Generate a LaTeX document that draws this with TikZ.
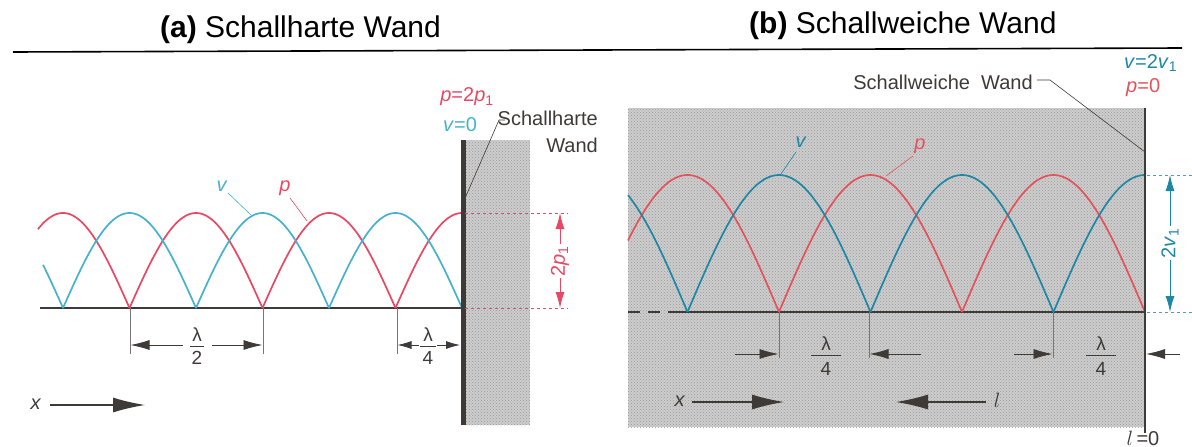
\documentclass[tikz,border=0pt]{standalone}
\usepackage{fontspec}
\setmainfont{Liberation Sans}
\usetikzlibrary{arrows.meta,patterns}
\definecolor{redA}{RGB}{232,72,100}
\definecolor{blueA}{RGB}{70,178,204}
\definecolor{redB}{RGB}{228,82,92}
\definecolor{blueB}{RGB}{30,135,165}
\definecolor{ink}{RGB}{62,58,56}
\definecolor{shade}{RGB}{205,205,205}
\tikzset{
  curve/.style={line width=1.7pt, line join=round},
  lbl/.style={font=\fontsize{20}{22}\selectfont, inner sep=0pt},
  ttl/.style={font=\fontsize{30}{34}\selectfont, inner sep=0pt, text=black},
  fracl/.style={font=\fontsize{19}{20}\selectfont, inner sep=0pt, text=ink},
  dimarrow/.style={ink, line width=0.8pt, -{Latex[length=19pt,width=10pt]}},
  smallarrow/.style={ink, line width=0.8pt, -{Latex[length=14pt,width=8pt]}},
  extline/.style={ink!70, line width=0.7pt},
  bigarrow/.style={ink, line width=1.2pt, -{Latex[length=32pt,width=15pt]}},
  leader/.style={line width=0.6pt},
  shadebox/.style={fill=shade},
  dotbox/.style={pattern=crosshatch dots, pattern color=gray!80},
  dimred/.style={redA, line width=0.9pt, {Latex[length=16pt,width=9pt]}-{Latex[length=16pt,width=9pt]}},
  dimblue/.style={blueB, line width=0.9pt, {Latex[length=16pt,width=9pt]}-{Latex[length=16pt,width=9pt]}},
}
\begin{document}
\begin{tikzpicture}[x=1pt,y=-1pt]
\useasboundingbox (0,0) rectangle (1192,447);

% ---------- titles ----------
\node[ttl, anchor=base west] (ta) at (160,37) {\textbf{(a)} Schallharte Wand};
\node[ttl, anchor=base west] (tb) at (749,33) {\textbf{(b)} Schallweiche Wand};
\coordinate (hl1) at (13,52);
\coordinate (hl2) at (1182,48);
\draw[black, line width=1.6pt] (hl1) -- (hl2);

% ================= panel (a) =================
\path[shadebox] (465,140) rectangle (530,425);
\path[dotbox] (465,140) rectangle (530,425);
\coordinate (a0) at (40,308);
\coordinate (aw) at (462,308);
\draw[ink, line width=1.2pt] (a0) -- (aw);

\foreach \a/\b in {38/129.5,129.5/262.5,262.5/395.5,395.5/462}
  \draw[curve,redA] plot[domain=\a:\b,samples=70] (\x,{308-95*abs(cos((\x-462)/133*180))});
\foreach \a/\b in {43/63,63/196,196/329,329/462}
  \draw[curve,blueA] plot[domain=\a:\b,samples=70] (\x,{308-95*abs(sin((\x-462)/133*180))});

% wall
\coordinate (wt) at (463,140);
\coordinate (wb) at (463,425);
\draw[ink, line width=5pt] (wt) -- (wb);

% dashed red lines and 2p1 dimension
\draw[redA, dashed, line width=0.8pt] (465,213) -- (568,213);
\draw[redA, dashed, line width=0.8pt] (465,308) -- (568,308);
\coordinate (dpt) at (560,213);
\coordinate (dpb) at (560,308);
\draw[dimred] (dpt) -- (dpb);
\node[lbl, text=redA, fill=white, inner sep=2pt, rotate=90] (p2) at (560,261) {2\textit{p}\textsubscript{1}};

% labels at wall
\node[lbl, text=redA] (pa) at (467,97) {\textit{p}=2\textit{p}\textsubscript{1}};
\node[lbl, text=blueA] (va) at (460,125) {\textit{v}=0};
\node[lbl, text=ink, anchor=base east] (sha) at (598,125) {Schallharte};
\node[lbl, text=ink, anchor=base east] (wda) at (598,152) {Wand};
\coordinate (sl1) at (505,120);
\coordinate (sl2) at (499,120);
\coordinate (sl3) at (466,196);
\draw[ink, leader] (sl1) -- (sl2) -- (sl3);

% v and p labels
\node[lbl, text=blueA] (vla) at (222,186) {\textit{v}};
\coordinate (vca) at (251,215);
\draw[blueA, leader] (228,193) -- (vca);
\node[lbl, text=redA] (pla) at (285,188) {\textit{p}};
\coordinate (pca) at (307,221);
\draw[redA, leader] (290,198) -- (pca);

% lambda/2 dimension
\draw[extline] (130,308) -- (130,354);
\draw[extline] (263,308) -- (263,354);
\draw[dimarrow] (183,345) -- (130.5,345);
\draw[dimarrow] (212,345) -- (262.5,345);
\node[fracl] (l2n) at (197,335) {λ};
\node[fracl] (l2d) at (197,358) {2};
\draw[ink, line width=0.7pt] (190,346) -- (204,346);

% lambda/4 dimension
\draw[extline] (397,308) -- (397,354);
\draw[smallarrow] (419,345) -- (397.5,345);
\draw[smallarrow] (437,345) -- (460,345);
\node[fracl] (l4n) at (428,335) {λ};
\node[fracl] (l4d) at (428,358) {4};
\draw[ink, line width=0.7pt] (420,346) -- (436,346);

% x arrow
\node[lbl, text=ink] (xa) at (36,404) {\textit{x}};
\coordinate (xae) at (145,405);
\draw[bigarrow] (50,405) -- (xae);

% ================= panel (b) =================
\path[shadebox] (628,108) rectangle (1145,427);
\path[dotbox] (628,108) rectangle (1145,427);
\coordinate (b0) at (628,312);
\coordinate (b1) at (680,312);
\coordinate (bw) at (1145,312);
\draw[ink, line width=1.2pt, dash pattern=on 12pt off 8pt] (b0) -- (b1);
\draw[ink, line width=1.2pt] (b1) -- (bw);

\foreach \a/\b in {628/779,779/962,962/1145}
  \draw[curve,redB] plot[domain=\a:\b,samples=80] (\x,{312-137*abs(sin((\x-1145)/183*180))});
\foreach \a/\b in {628/687.5,687.5/870.5,870.5/1053.5,1053.5/1145}
  \draw[curve,blueB] plot[domain=\a:\b,samples=80] (\x,{312-137*abs(cos((\x-1145)/183*180))});

% wall
\coordinate (bwt) at (1145,108);
\coordinate (bwb) at (1145,433);
\draw[ink, line width=2pt] (bwt) -- (bwb);

% blue dashed lines and 2v1 dimension
\draw[blueB!80, dashed, line width=0.8pt] (1147,175) -- (1192,175);
\draw[blueB!80, dashed, line width=0.8pt] (1147,312) -- (1192,312);
\coordinate (dvt) at (1170,175);
\coordinate (dvb) at (1170,312);
\draw[dimblue] (dvt) -- (dvb);
\node[lbl, text=blueB, fill=white, inner sep=2pt, rotate=90] (v2) at (1170,243) {2\textit{v}\textsubscript{1}};

% labels
\node[lbl, text=ink] (swb) at (943,82) {Schallweiche\ \ Wand};
\coordinate (sw1) at (1037,80);
\coordinate (sw2) at (1050,80);
\coordinate (sw3) at (1145,152);
\draw[ink, leader] (sw1) -- (sw2) -- (sw3);
\node[lbl, text=blueB, anchor=west] (vb) at (1124,63) {\textit{v}=2\textit{v}\textsubscript{1}};
\node[lbl, text=redB, anchor=west] (pb) at (1126,88) {\textit{p}=0};

\node[lbl, text=blueB] (vlb) at (801,142) {\textit{v}};
\coordinate (vcb) at (781,174);
\draw[blueB, leader] (796,152) -- (vcb);
\node[lbl, text=redB] (plb) at (920,146) {\textit{p}};
\coordinate (pcb) at (886,176);
\draw[redB, leader] (913,156) -- (pcb);

% lambda/4 dimensions
\draw[extline] (779,312) -- (779,358);
\draw[extline] (869,312) -- (869,358);
\draw[extline] (1053,312) -- (1053,358);
\draw[dimarrow] (735,354) -- (778.5,354);
\draw[dimarrow] (921,354) -- (869.5,354);
\draw[dimarrow] (1014,354) -- (1052.5,354);
\draw[dimarrow] (1180,354) -- (1146,354);
\node[fracl] (l4bn) at (826,344) {λ};
\node[fracl] (l4bd) at (826,369) {4};
\draw[ink, line width=0.8pt] (811,355) -- (841,355);
\node[fracl] (l4cn) at (1101,344) {λ};
\node[fracl] (l4cd) at (1101,369) {4};
\draw[ink, line width=0.8pt] (1086,355) -- (1116,355);

% x and l arrows
\node[lbl, text=ink] (xb) at (680,401) {\textit{x}};
\coordinate (xbe) at (784,402);
\draw[bigarrow] (692,402) -- (xbe);
\node[lbl, text=ink] (lb) at (997,400) {$l$};
\coordinate (lbe) at (896,402);
\draw[bigarrow] (986,402) -- (lbe);
\node[lbl, text=ink] (l0) at (1143,438) {$l$\,=0};

\end{tikzpicture}
\end{document}
